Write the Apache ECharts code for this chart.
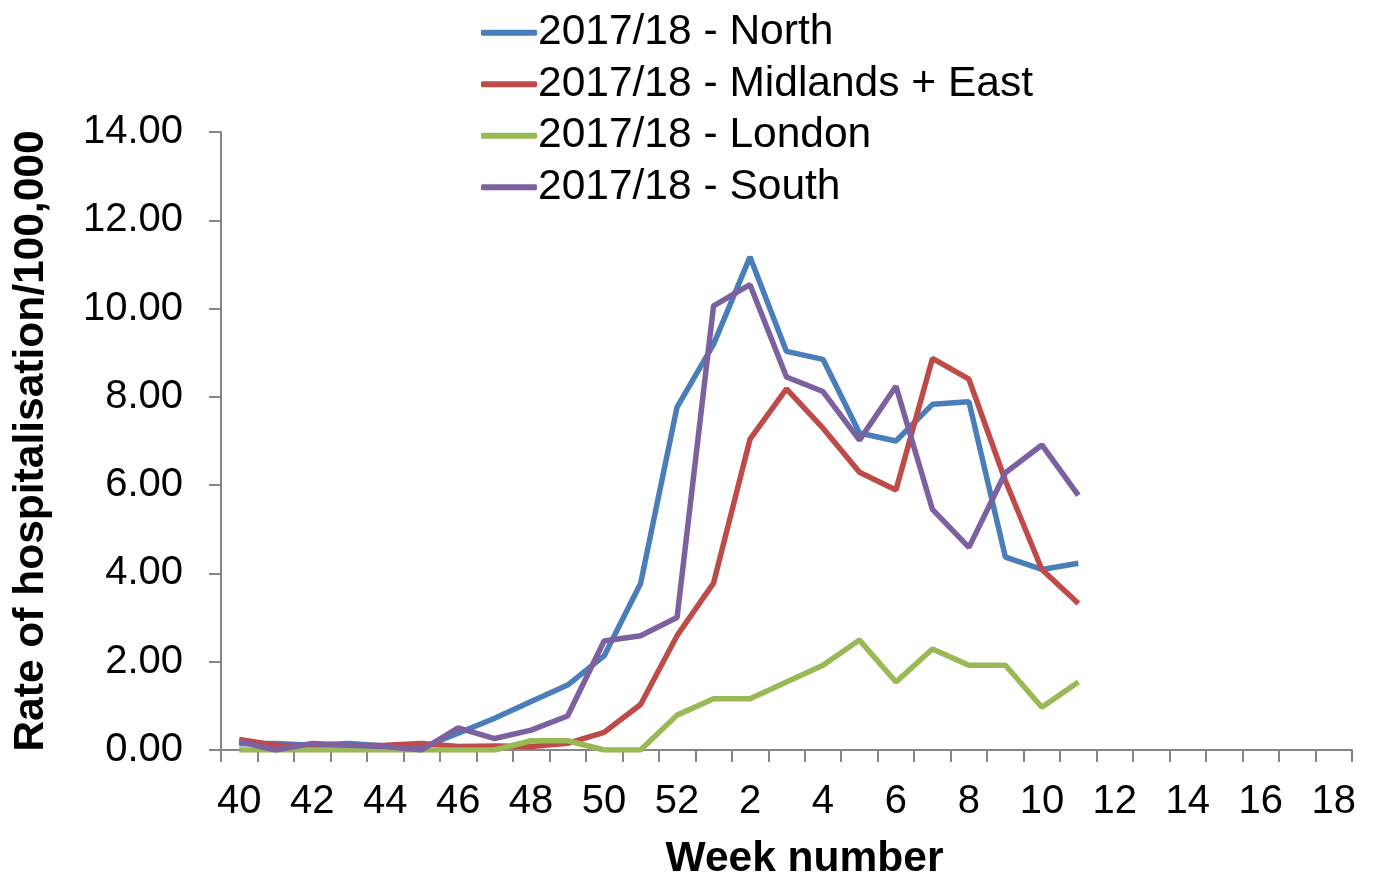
<!DOCTYPE html>
<html><head><meta charset="utf-8">
<script src="https://cdn.jsdelivr.net/npm/echarts@6/dist/echarts.min.js"></script>
<style>html,body{margin:0;padding:0;background:#fff}#c{width:1377px;height:874px}</style>
</head><body><div id="c"></div>
<script>
var weeks = ['40','41','42','43','44','45','46','47','48','49','50','51','52','1','2','3','4','5','6','7','8','9','10','11','12','13','14','15','16','17','18'];
var seriesNames = ['2017/18 - North','2017/18 - Midlands + East','2017/18 - London','2017/18 - South'];
var north = [0.14,0.15,0.11,0.15,0.09,0.05,0.38,0.72,1.10,1.47,2.13,3.77,7.77,9.19,11.17,9.03,8.85,7.18,7.00,7.83,7.89,4.37,4.09,4.23];
var midlands = [0.24,0.11,0.09,0.09,0.11,0.15,0.08,0.09,0.08,0.15,0.40,1.03,2.59,3.78,7.04,8.18,7.29,6.29,5.89,8.87,8.40,6.10,4.09,3.32];
var london = [0,0,0,0,0,0,0,0,0.21,0.21,0,0,0.79,1.16,1.16,1.54,1.92,2.49,1.54,2.29,1.92,1.92,0.97,1.54];
var south = [0.19,0,0.15,0.11,0.08,0,0.50,0.26,0.45,0.77,2.47,2.59,3.00,10.06,10.54,8.45,8.12,7.02,8.24,5.45,4.59,6.28,6.91,5.77];
var colors = ['#4A7EBB','#BE4B48','#98B954','#7D60A0'];
var yTicks = {min:0, max:14, interval:2};

var FF = 'Arial, "Liberation Sans", sans-serif';
var chart = echarts.init(document.getElementById('c'));
var data = [north, midlands, london, south];
chart.setOption({
  animation:false,
  color: colors,
  textStyle:{fontFamily:FF},
  grid:{left:221, right:25, top:132, bottom:124, containLabel:false, outerBoundsMode:'none'},
  legend:{
    orient:'vertical', left:476, top:2, itemGap:0, itemWidth:56, itemHeight:6,
    icon:'roundRect', textStyle:{fontSize:42.5, color:'#000', fontFamily:FF, lineHeight:51.5, padding:[0,0,0,-4]},
    data: seriesNames
  },
  xAxis:{
    type:'category', data:weeks, boundaryGap:true,
    axisLine:{lineStyle:{color:'#868686', width:2}},
    axisTick:{show:true, interval:0, length:12, lineStyle:{color:'#868686', width:2}},
    axisLabel:{interval:1, color:'#000', fontSize:40, margin:32, fontFamily:FF},
    name:'Week number', nameLocation:'middle', nameGap:88,
    nameTextStyle:{fontSize:42.5, fontWeight:'bold', color:'#000', fontFamily:FF, padding:[0,0,0,36]}
  },
  yAxis:{
    type:'value', min:yTicks.min, max:yTicks.max, interval:yTicks.interval,
    axisLine:{show:true, lineStyle:{color:'#868686', width:2}},
    axisTick:{show:true, length:12, lineStyle:{color:'#868686', width:2}},
    splitLine:{show:false},
    axisLabel:{color:'#000', fontSize:40, margin:38, fontFamily:FF, formatter:function(v){return v.toFixed(2);}},
    name:'Rate of hospitalisation/100,000', nameLocation:'middle', nameGap:168,
    nameTextStyle:{fontSize:42.5, fontWeight:'bold', color:'#000', fontFamily:FF}
  },
  series: seriesNames.map(function(n,i){
    return {name:n, type:'line', data:data[i], symbol:'none', lineStyle:{width:5.5, color:colors[i]}, itemStyle:{color:colors[i]}};
  })
});
</script></body></html>
